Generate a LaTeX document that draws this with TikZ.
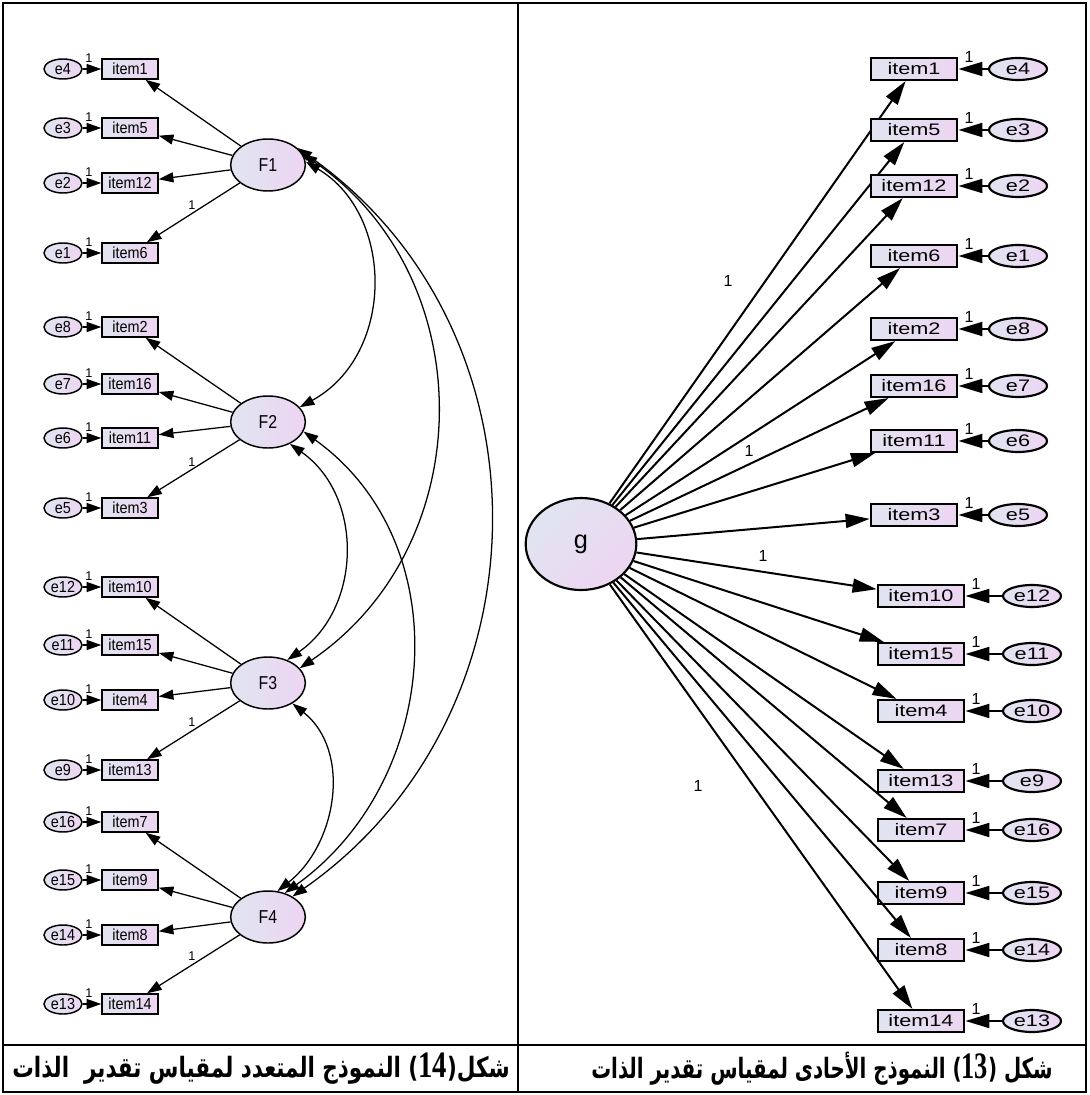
\documentclass[tikz,border=0pt]{standalone}
\usepackage{fontspec}
\usepackage{graphicx}
\setmainfont{Liberation Sans}
\newfontfamily\arabicfont[Script=Arabic]{DejaVu Sans}
\newfontfamily\capnum{Liberation Serif}
\TeXXeTstate=1
\usetikzlibrary{arrows.meta,shapes.geometric}
\definecolor{shadeA}{RGB}{224,229,240}
\definecolor{shadeB}{RGB}{237,213,242}
% horizontal scaling of labels
\newcommand\ltxt[1]{\scalebox{0.9}[1]{#1}}
\newcommand\ftxt[1]{\scalebox{0.85}[1]{#1}}
\newcommand\rtxt[1]{\scalebox{1.3}[1]{#1}}
\newcommand\capdigits[1]{{\capnum\bfseries\fontsize{28}{30}\selectfont #1}}
\tikzset{
  lfill/.style={left color=shadeA, right color=shadeB},
  lbox/.style={draw, line width=1.1pt, lfill, rectangle, minimum width=42pt,
    minimum height=15pt, inner sep=0pt, font=\fontsize{12}{14}\selectfont},
  lerr/.style={draw, line width=1.1pt, lfill, ellipse, minimum width=28.5pt,
    minimum height=15pt, inner sep=0pt, font=\fontsize{12}{14}\selectfont},
  lfac/.style={draw, line width=1.1pt, lfill, ellipse, minimum width=56pt,
    minimum height=39pt, inner sep=0pt, font=\fontsize{14}{16}\selectfont},
  lone/.style={inner sep=0pt, font=\fontsize{9.5}{11}\selectfont},
  larr/.style={line width=0.95pt, -{Triangle[length=11pt,width=7.5pt]}},
  lcov/.style={line width=0.95pt, {Triangle[length=11pt,width=7.5pt]}-{Triangle[length=11pt,width=7.5pt]}},
  rbox/.style={draw, line width=1.6pt, lfill, rectangle, minimum width=65pt,
    minimum height=16.5pt, inner sep=0pt, font=\fontsize{12.5}{14}\selectfont},
  rerr/.style={draw, line width=1.6pt, lfill, ellipse, minimum width=43.5pt,
    minimum height=16.5pt, inner sep=0pt, font=\fontsize{12.5}{14}\selectfont},
  gfac/.style={draw, line width=1.6pt, top color=shadeA, bottom color=shadeB,
    shading angle=45, ellipse, minimum width=83pt, minimum height=69pt,
    inner sep=0pt, font=\fontsize{19}{22}\selectfont},
  rone/.style={inner sep=0pt, font=\fontsize{12}{14}\selectfont},
  rarr/.style={line width=1.5pt, -{Triangle[length=18pt,width=10.5pt]}},
  frame/.style={line width=1.5pt},
  capt/.style={inner sep=0pt, font=\fontsize{21}{25}\selectfont},
}
\begin{document}
\begin{tikzpicture}[x=0.75pt,y=-0.75pt]
\useasboundingbox (0,0) rectangle (1089,1095);

% table frame
\draw[frame] (3,3) rectangle (1086,1092);
\coordinate (divT) at (518,3);
\coordinate (divB) at (518,1092);
\coordinate (rowL) at (3,1045);
\coordinate (rowR) at (1086,1045);
\draw[frame] (divT) -- (divB);
\draw[frame] (rowL) -- (rowR);

% ---------- four-factor model ----------
\node[lfac] (F1) at (268,165) {\ftxt{F1}};
\node[lfac] (F2) at (268,422) {\ftxt{F2}};
\node[lfac] (F3) at (268,683) {\ftxt{F3}};
\node[lfac] (F4) at (268,917) {\ftxt{F4}};

\foreach \it/\er/\y/\f in {1/4/69/1, 5/3/128/1, 12/2/183/1, 6/1/253/1,
  2/8/327/2, 16/7/384/2, 11/6/438/2, 3/5/508/2,
  10/12/587/3, 15/11/645/3, 4/10/700/3, 13/9/770/3,
  7/16/822/4, 9/15/880/4, 8/14/935/4, 14/13/1004/4} {
  \node[lbox] (Li\it) at (130,\y) {\ltxt{item\it}};
  \node[lerr] (Le\er) at (63,\y) {\ltxt{e\er}};
  \draw[larr] (Le\er) -- (Li\it);
  \node[lone] at (89,\y-11) {1};
  \draw[larr] (F\f) -- (Li\it);
}
\foreach \y in {205,462,722,956} \node[lone] at (192,\y) {1};

% factor covariances
\draw[lcov] (F1.5)  .. controls (395,215) and (395,355) .. (F2.25);
\draw[lcov] (F1.18) .. controls (482,277) and (481,545) .. (F3.25);
\draw[lcov] (F1.30) .. controls (557,330) and (552,715) .. (F4.40);
\draw[lcov] (F2.-45) .. controls (364,496) and (362,608) .. (F3.50);
\draw[lcov] (F2.-15) .. controls (460,544) and (441,781) .. (F4.55);
\draw[lcov] (F3.-40) .. controls (352,751) and (337,844) .. (F4.70);

% ---------- one-factor model ----------
\node[gfac] (g) at (581,544) {g};

\foreach \it/\er/\y/\bx/\ex in {1/4/69/914/1018, 5/3/130/914/1018,
  12/2/186/914/1018, 6/1/256/914/1018, 2/8/329/914/1018, 16/7/386/914/1018,
  11/6/441/914/1018, 3/5/515/914/1018,
  10/12/596/921/1032, 15/11/654/921/1032, 4/10/711/921/1032, 13/9/781/921/1032,
  7/16/830/921/1032, 9/15/893/921/1032, 8/14/950/921/1032, 14/13/1021/921/1032} {
  \node[rbox] (Ri\it) at (\bx,\y) {\rtxt{item\it}};
  \node[rerr] (Re\er) at (\ex,\y) {\rtxt{e\er}};
  \draw[rarr] (Re\er) -- (Ri\it);
  \node[rone] at (\bx+55,\y-12) {1};
  \draw[rarr] (g) -- (Ri\it);
}
\node[rone] at (728,281) {1};
\node[rone] at (749,451) {1};
\node[rone] at (763,556) {1};
\node[rone] at (698,786) {1};

% ---------- captions ----------
\node[capt] (capL) at (261,1069) {\resizebox{373pt}{\height}{\arabicfont\bfseries\beginR شكل(\beginL\capdigits{14}\endL) النموذج المتعدد لمقياس تقدير\ \ الذات\endR}};
\node[capt] (capR) at (822,1069) {\resizebox{346pt}{\height}{\arabicfont\bfseries\beginR شكل (\beginL\capdigits{13}\endL) النموذج الأحادى لمقياس تقدير الذات\endR}};
\end{tikzpicture}
\end{document}
